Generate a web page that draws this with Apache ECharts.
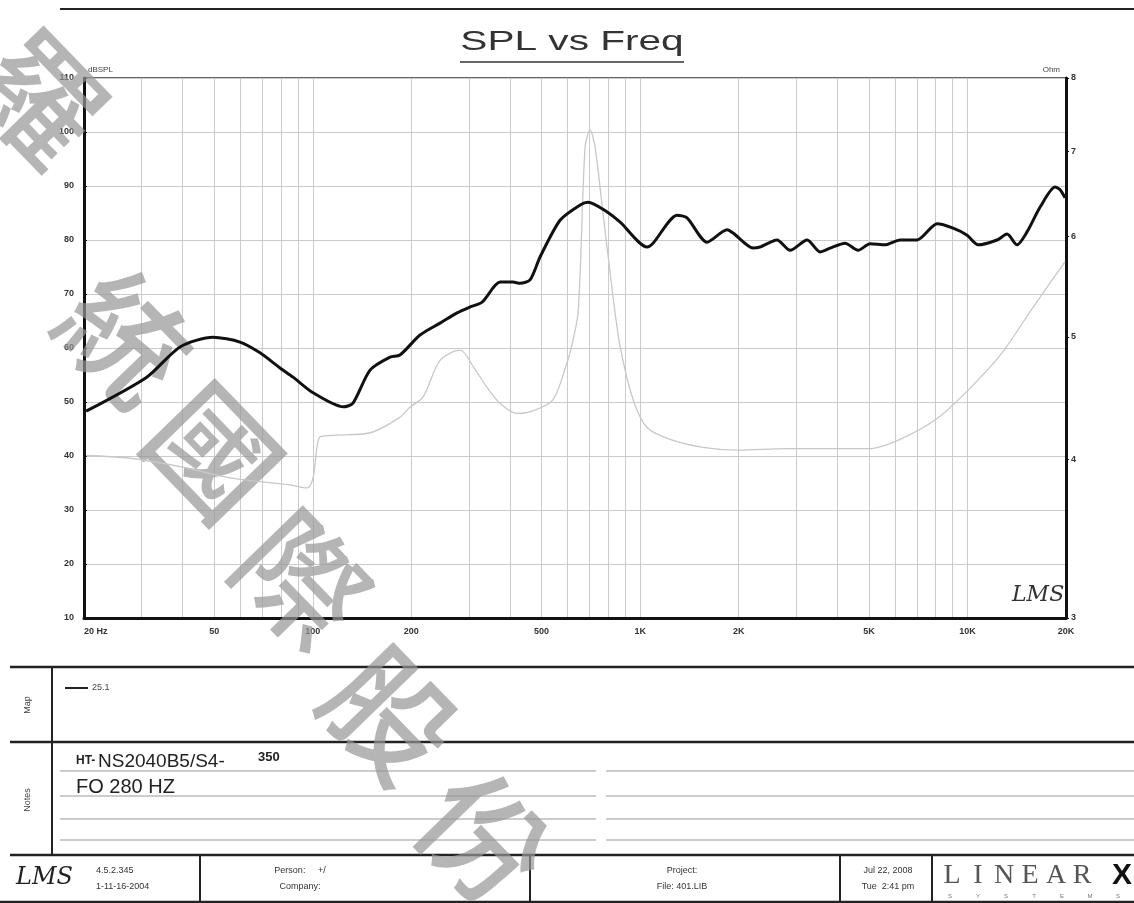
<!DOCTYPE html>
<html>
<head>
<meta charset="utf-8">
<title>SPL vs Freq</title>
<script src="https://cdn.jsdelivr.net/npm/echarts@6/dist/echarts.min.js"></script>
<style>
  html, body { margin: 0; padding: 0; background: #fff; }
  #chart { width: 1134px; height: 903px; }
</style>
</head>
<body>
<div id="chart"></div>
<script>
// SPL response (Hz / dBSPL)
const splFreq = [20.3, 31.1, 39.3, 49.6, 59.9, 69.0, 79.4, 87.0, 100.2, 124, 132.7, 149.6, 172.2, 184.6,
  212.6, 244.8, 275.9, 302.3, 329, 373.4, 409, 430, 461, 495, 570, 656, 693, 793, 869, 1050, 1095,
  1297, 1391, 1601, 1843, 1923, 2213, 2325, 2620, 2872, 3237, 3546, 3804, 4228, 4633, 5040, 5603,
  6225, 7016, 8075, 9037, 9974, 10777, 12315, 13213, 14171, 15207, 16673, 18520, 19183, 19870];
const splDb = [48.3, 54.6, 60.2, 62.0, 61.1, 59.1, 56.3, 54.6, 51.7, 49.1, 49.8, 55.9, 58.3, 58.7,
  62.4, 64.6, 66.5, 67.6, 68.5, 72.2, 72.2, 72.0, 72.6, 76.9, 83.7, 86.5, 87.0, 85.2, 83.3, 78.7, 79.4,
  84.6, 84.1, 79.6, 81.9, 81.3, 78.5, 78.7, 80.0, 78.1, 80.0, 77.8, 78.5, 79.4, 78.1, 79.3, 79.1,
  80.0, 80.0, 83.0, 82.2, 80.9, 79.1, 80.0, 81.1, 79.1, 81.5, 86.1, 89.8, 89.3, 87.8];

// impedance, faint grey trace (Hz / Ohm)
const impFreq = [20.3, 27.6, 39.3, 55.9, 85.2, 96, 100.2, 105.2, 115.3, 150, 184.6, 198, 217, 244.8,
  282, 310, 340.7, 373.4, 420.8, 470.8, 542, 598, 611, 646, 679, 703, 728, 770, 827, 869, 952, 1050,
  1234, 1557, 1977, 2812, 5000, 6225, 8075, 9974, 12700, 15900, 19870];
const impOhm = [4.03, 4.01, 3.95, 3.87, 3.82, 3.80, 3.87, 4.17, 4.18, 4.20, 4.32, 4.40, 4.48, 4.79,
  4.88, 4.73, 4.56, 4.43, 4.35, 4.37, 4.46, 4.77, 4.86, 5.22, 7.06, 7.28, 7.06, 6.26, 5.37, 4.91, 4.46, 4.24,
  4.15, 4.09, 4.07, 4.08, 4.08, 4.15, 4.31, 4.53, 4.85, 5.28, 5.73];

const xLabelFreqs = [20, 50, 100, 200, 500, 1000, 2000, 5000, 10000, 20000];
const xGridFreqs = [20, 30, 40, 50, 60, 70, 80, 90, 100, 200, 300, 400, 500, 600, 700, 800, 900,
  1000, 2000, 3000, 4000, 5000, 6000, 7000, 8000, 9000, 10000, 20000];
const ohmTicks = [3, 4, 5, 6, 7, 8];

const chart = echarts.init(document.getElementById("chart"));
const lg = Math.log10;

function freqLabel(v) {
  const f = Math.round(Math.pow(10, v));
  if (f === 20) return "20 Hz";
  return f >= 1000 ? f / 1000 + "K" : String(f);
}

// watermark glyphs, drawn diagonally over the sheet
const wmChars = ["羅", "統", "國", "際", "股", "份"];
const wmPos = [[40, 98], [125, 338], [214, 452], [302, 580], [390, 715], [484, 838]];

const graphics = [
  { type: "line", shape: { x1: 60, y1: 9, x2: 1134, y2: 9 }, style: { stroke: "#222", lineWidth: 2 } },
  // scanned title is stretched sideways
  { type: "text", x: 572, y: 42, scaleX: 1.45,
    style: { text: "SPL vs Freq", font: "28px 'Liberation Sans'", fill: "#333", align: "center", verticalAlign: "middle" } },
  { type: "line", shape: { x1: 460, y1: 62, x2: 684, y2: 62 }, style: { stroke: "#333", lineWidth: 1.5 } },
  { type: "text", x: 1012, y: 584, style: { text: "LMS", font: "italic 22px 'DejaVu Serif'", fill: "#333" } },
];

// table below the chart
[667, 742, 855].forEach((y) => {
  graphics.push({ type: "line", shape: { x1: 10, y1: y, x2: 1134, y2: y }, style: { stroke: "#222", lineWidth: 2.5 } });
});
graphics.push({ type: "line", shape: { x1: 0, y1: 902, x2: 1134, y2: 902 }, style: { stroke: "#222", lineWidth: 2.5 } });
graphics.push({ type: "line", shape: { x1: 52, y1: 667, x2: 52, y2: 855 }, style: { stroke: "#222", lineWidth: 2 } });
[[28, 705, "Map"], [28, 800, "Notes"]].forEach(([x, y, t]) => {
  graphics.push({ type: "text", x: x, y: y, rotation: Math.PI / 2,
    style: { text: t, font: "9px 'Liberation Sans'", fill: "#444", align: "center", verticalAlign: "middle" } });
});
graphics.push({ type: "line", shape: { x1: 65, y1: 688, x2: 88, y2: 688 }, style: { stroke: "#222", lineWidth: 2 } });
graphics.push({ type: "text", x: 92, y: 688, style: { text: "25.1", font: "9px 'Liberation Sans'", fill: "#444", verticalAlign: "middle" } });

[771, 796, 819, 840].forEach((y) => {
  graphics.push({ type: "line", shape: { x1: 60, y1: y, x2: 596, y2: y }, style: { stroke: "#999", lineWidth: 1.2 } });
  graphics.push({ type: "line", shape: { x1: 606, y1: y, x2: 1134, y2: y }, style: { stroke: "#999", lineWidth: 1.2 } });
});
graphics.push({ type: "text", x: 76, y: 767, style: { text: "HT-", font: "bold 12px 'Liberation Sans'", fill: "#222", verticalAlign: "bottom" } });
graphics.push({ type: "text", x: 98, y: 771, style: { text: "NS2040B5/S4-", font: "19px 'Liberation Sans'", fill: "#222", verticalAlign: "bottom" } });
graphics.push({ type: "text", x: 258, y: 764, style: { text: "350", font: "bold 13px 'Liberation Sans'", fill: "#222", verticalAlign: "bottom" } });
graphics.push({ type: "text", x: 76, y: 797, style: { text: "FO 280 HZ", font: "20px 'Liberation Sans'", fill: "#222", verticalAlign: "bottom" } });

[200, 530, 840, 932].forEach((x) => {
  graphics.push({ type: "line", shape: { x1: x, y1: 855, x2: x, y2: 902 }, style: { stroke: "#222", lineWidth: 2 } });
});
const small = "9px 'Liberation Sans'";
const footer = [
  [96, 871, "4.5.2.345", "left"], [96, 887, "1-11-16-2004", "left"],
  [300, 871, "Person:     +/", "center"], [300, 887, "Company:", "center"],
  [682, 871, "Project:", "center"], [682, 887, "File: 401.LIB", "center"],
  [888, 871, "Jul 22, 2008", "center"], [888, 887, "Tue  2:41 pm", "center"],
];
footer.forEach(([x, y, t, a]) => {
  graphics.push({ type: "text", x: x, y: y, style: { text: t, font: small, fill: "#333", align: a, verticalAlign: "middle" } });
});
graphics.push({ type: "text", x: 16, y: 878, style: { text: "LMS", font: "italic 24px 'DejaVu Serif'", fill: "#222", verticalAlign: "middle" } });
"LINEAR".split("").forEach((c, i) => {
  graphics.push({ type: "text", x: 952 + i * 26, y: 876,
    style: { text: c, font: "28px 'Liberation Serif'", fill: "#555", align: "center", verticalAlign: "middle" } });
});
graphics.push({ type: "text", x: 1122, y: 876, style: { text: "X", font: "bold 30px 'Liberation Sans'", fill: "#111", align: "center", verticalAlign: "middle" } });
"SYSTEMS".split("").forEach((c, i) => {
  graphics.push({ type: "text", x: 950 + i * 28, y: 896,
    style: { text: c, font: "6px 'Liberation Sans'", fill: "#777", align: "center", verticalAlign: "middle" } });
});

wmChars.forEach((c, i) => {
  graphics.push({ type: "text", x: wmPos[i][0], y: wmPos[i][1], rotation: -0.8, z: 1,
    style: { text: c, font: "500 124px 'Noto Sans CJK TC'", fill: "rgba(150,150,150,0.7)", align: "center", verticalAlign: "middle" } });
});

const option = {
  animation: false,
  backgroundColor: "#fff",
  grid: {
    left: 84, right: 68, top: 78, height: 540,
    show: true, borderColor: "#333", borderWidth: 1.5,
  },
  xAxis: {
    type: "value",
    min: lg(20),
    max: lg(20000),
    axisLine: { lineStyle: { color: "#111", width: 3 } },
    axisTick: { show: false, customValues: xGridFreqs.map(lg) },
    axisLabel: {
      customValues: xLabelFreqs.map(lg),
      formatter: freqLabel,
      fontSize: 9, fontWeight: "bold", color: "#333", margin: 9,
      fontFamily: "Liberation Sans", alignMinLabel: "left",
    },
    splitLine: { show: true, lineStyle: { color: "#cbcbcb", width: 1 } },
  },
  yAxis: [
    {
      type: "value",
      min: 10, max: 110, interval: 10,
      name: "dBSPL",
      nameGap: 4,
      nameTextStyle: { fontSize: 8, color: "#444", align: "left", padding: [0, 0, 0, 4] },
      axisLine: { show: true, lineStyle: { color: "#111", width: 3 } },
      axisTick: { show: true, inside: true, length: 3, lineStyle: { color: "#111" } },
      axisLabel: { fontSize: 9, fontWeight: "bold", color: "#333", margin: 10, fontFamily: "Liberation Sans" },
      splitLine: { lineStyle: { color: "#cbcbcb", width: 1 } },
    },
    {
      type: "value",
      position: "right",
      min: lg(3), max: lg(8),
      name: "Ohm",
      nameGap: 4,
      nameTextStyle: { fontSize: 8, color: "#444", align: "right", padding: [0, 6, 0, 0] },
      axisLine: { show: true, lineStyle: { color: "#111", width: 3 } },
      axisTick: { show: true, length: 3, customValues: ohmTicks.map(lg), lineStyle: { color: "#111" } },
      axisLabel: {
        customValues: ohmTicks.map(lg),
        formatter: (v) => String(Math.round(Math.pow(10, v))),
        fontSize: 9, fontWeight: "bold", color: "#333", margin: 5, fontFamily: "Liberation Sans",
      },
      splitLine: { show: false },
    },
  ],
  series: [
    {
      name: "Impedance",
      type: "line",
      yAxisIndex: 1,
      data: impFreq.map((f, i) => [lg(f), lg(impOhm[i])]),
      showSymbol: false,
      smooth: 0.3,
      lineStyle: { color: "#c8c8c8", width: 1.3 },
      z: 2,
    },
    {
      name: "SPL",
      type: "line",
      data: splFreq.map((f, i) => [lg(f), splDb[i]]),
      showSymbol: false,
      smooth: 0.25,
      lineStyle: { color: "#111", width: 3 },
      z: 3,
    },
  ],
  graphic: graphics,
};

chart.setOption(option);

window.addEventListener("resize", () => {
  chart.resize();
});
</script>
</body>
</html>
